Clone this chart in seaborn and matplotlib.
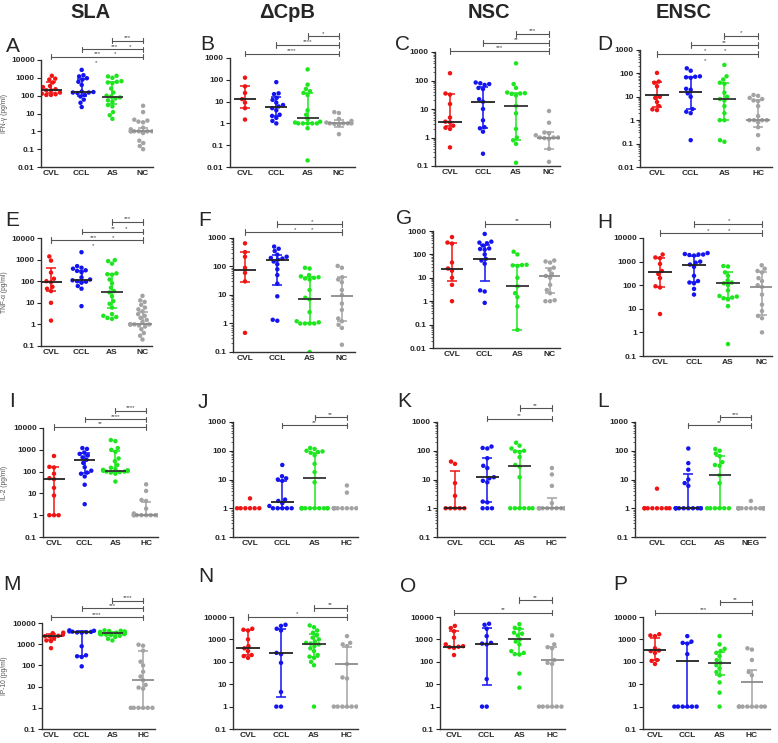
import numpy as np
import pandas as pd
import matplotlib
matplotlib.use('Agg')
import matplotlib.pyplot as plt
import matplotlib.transforms as mtransforms
from matplotlib.ticker import LogLocator, NullFormatter
import seaborn as sns

# group labels
groups_nc = ['CVL', 'CCL', 'AS', 'NC']
groups_hc = ['CVL', 'CCL', 'AS', 'HC']
groups_neg = ['CVL', 'CCL', 'AS', 'NEG']
col_titles = ['SLA', 'ΔCpB', 'NSC', 'ENSC']

# ---- values (pg/ml) ----
A_CVL = [1300, 900, 800, 550, 350, 300, 230, 200, 200, 150, 130, 120, 110, 110]
A_CCL = [2800, 1400, 1200, 950, 800, 600, 400, 170, 160, 150, 150, 140, 110, 90, 60, 40, 23]
A_AS = [1300, 1200, 1000, 650, 600, 550, 500, 250, 150, 100, 90, 80, 70, 55, 45, 30, 25, 12, 8, 5]
A_NC = [27, 12, 4.5, 4, 3.5, 3.2, 1.6, 1.3, 1.1, 1, 1, 1, 1, 1, 1, 1, 1, 0.8, 0.3, 0.22, 0.15, 0.1]
A_med = [220, 155, 87, 1.0]
A_lo = [140, 100, 35, 0.9]
A_hi = [560, 910, 575, 1.6]

B_CVL = [125, 50, 25, 13, 9, 5, 1.5]
B_CCL = [78, 24, 22, 15, 12, 9, 7, 6, 5, 4, 2.5, 2.2, 1.8, 1.3, 1.0]
B_AS = [300, 60, 38, 30, 25, 20, 4, 2.5, 1.6, 1.2, 1.1, 1, 1, 1, 1, 1, 0.6, 0.02]
B_NC = [3.3, 3.0, 1.6, 1.3, 1.1, 1, 1, 1, 1, 0.95, 0.85, 0.32]
B_med = [13, 5.8, 1.7, 1.05]
B_lo = [5.3, 2.2, 1.0, 0.7]
B_hi = [52, 16, 26, 1.5]

C_CVL = [180, 35, 32, 15, 5, 3.6, 3.4, 2.6, 2.2, 2.0, 0.45]
C_CCL = [85, 80, 75, 70, 55, 50, 22, 18, 10, 4, 2.3, 2.1, 1.6, 0.27]
C_AS = [400, 75, 55, 38, 36, 35, 34, 30, 13, 7, 2, 1.0, 0.8, 0.6, 0.13]
C_NC = [8.5, 3.3, 1.5, 1.4, 1.2, 1.1, 1, 1, 1, 0.95, 0.9, 0.4, 0.14]
C_med = [3.5, 18, 13, 1.0]
C_lo = [2.5, 2.2, 0.8, 0.38]
C_hi = [33, 57, 37, 1.5]

D_CVL = [105, 45, 40, 28, 10, 9, 6, 4, 2.9, 2.7]
D_CCL = [165, 130, 75, 72, 68, 65, 22, 20, 14, 10, 3, 2.3, 2.0, 0.14]
D_AS = [230, 75, 55, 40, 36, 15, 10, 8, 7, 4, 2, 1.0, 1.0, 0.14, 0.12]
D_HC = [12, 11, 9, 8, 7, 6.5, 4, 1.5, 1, 1, 1, 1, 0.8, 0.5, 0.23, 0.06]
D_med = [12, 16, 8, 1.0]
D_lo = [3.6, 3.0, 1.0, 0.5]
D_hi = [42, 70, 38, 7]

E_CVL = [1400, 900, 250, 130, 100, 90, 55, 45, 35, 10, 1.5]
E_CCL = [2200, 500, 420, 380, 320, 300, 260, 150, 120, 110, 100, 95, 85, 60, 45, 7]
E_AS = [950, 850, 650, 230, 210, 200, 120, 80, 50, 35, 30, 20, 12, 9, 6, 3, 2.5, 2.2, 2.0, 1.8]
E_NC = [21, 13, 11, 8, 6, 5, 4, 3, 2.5, 2, 1.6, 1.3, 1.1, 1, 1, 1, 1, 1, 1, 1, 1, 0.9, 0.8,
        0.6, 0.4, 0.3, 0.2]
E_med = [95, 110, 30, 1.0]
E_lo = [35, 90, 5.5, 1.0]
E_hi = [400, 300, 210, 3.7]

F_CVL = [650, 320, 220, 90, 60, 30, 0.47]
F_CCL = [500, 420, 350, 260, 220, 200, 190, 175, 150, 120, 80, 50, 25, 9, 1.35, 1.25]
F_AS = [90, 85, 50, 45, 42, 40, 38, 35, 15, 8, 7, 2.5, 1.2, 1.1, 1, 1, 1, 1, 0.1]
F_NC = [105, 90, 42, 35, 28, 15, 10, 5, 3, 1.5, 1.2, 0.9, 0.7, 0.18]
F_med = [75, 170, 7, 9.5]
F_lo = [29, 23, 1.0, 1.2]
F_hi = [330, 250, 42, 42]

G_CVL = [550, 320, 290, 45, 25, 20, 10, 5, 1]
G_CCL = [750, 350, 320, 300, 240, 180, 170, 160, 100, 65, 55, 40, 2.9, 2.6, 0.85]
G_AS = [130, 100, 36, 35, 34, 32, 10, 4.3, 2.2, 1.5, 0.6, 0.06]
G_NC = [55, 50, 45, 27, 22, 15, 12, 10, 5, 3, 2.2, 1.1, 1.0, 1.0]
G_med = [24, 65, 4.3, 12]
G_lo = [7, 7.5, 0.06, 2.2]
G_hi = [300, 250, 35, 27]

H_CVL = [2000, 1500, 1400, 800, 400, 300, 200, 90, 80, 6]
H_CCL = [2300, 2100, 2000, 2000, 1900, 1800, 1000, 900, 750, 600, 250, 150, 130, 120, 70, 40]
H_AS = [650, 620, 350, 250, 160, 130, 120, 100, 60, 35, 33, 30, 28, 25, 13, 0.32]
H_NC = [700, 500, 400, 350, 200, 150, 100, 85, 40, 15, 8, 5, 4, 1.0]
H_med = [350, 700, 125, 85]
H_lo = [80, 140, 28, 5.5]
H_hi = [1400, 1800, 350, 350]

I_CVL = [520, 165, 155, 80, 50, 45, 18, 8, 1, 1, 1]
I_CCL = [1200, 1100, 750, 650, 550, 450, 350, 250, 160, 110, 90, 80, 60, 25, 3.2]
I_AS = [2800, 2500, 1200, 1000, 800, 400, 300, 200, 150, 130, 120, 115, 110, 105, 100, 100,
        95, 90, 80, 35]
I_HC = [26, 13, 5, 4.5, 2, 1.2, 1, 1, 1, 1, 1, 1, 1, 1, 1, 1]
I_med = [45, 350, 110, 1.0]
I_lo = [1, 90, 100, 1]
I_hi = [160, 700, 900, 4]

J_CVL = [2.2, 1, 1, 1, 1, 1, 1]
J_CCL = [32, 13, 11, 10, 9, 2.0, 1.8, 1.5, 1.2, 1, 1, 1, 1, 1]
J_AS = [125, 115, 100, 95, 90, 85, 70, 35, 18, 8, 1, 1, 1, 1, 1, 1, 1, 1, 1, 1]
J_HC = [6.2, 3.5, 1, 1, 1, 1, 1, 1, 1, 1, 1, 1, 1, 1]
J_med = [1, 1.7, 11, 1]
J_lo = [1, 1, 1, 1]
J_hi = [1, 9, 85, 1]

K_CVL = [42, 35, 7.5, 2.7, 1, 1, 1, 1, 1]
K_CCL = [140, 125, 120, 55, 30, 25, 12, 11, 9, 8, 1.7, 1.6, 1, 1, 1]
K_AS = [190, 150, 120, 100, 95, 90, 60, 32, 28, 12, 1, 1, 1, 1, 1, 1]
K_HC = [25, 15, 6, 1.5, 1, 1, 1, 1, 1, 1, 1, 1, 1, 1, 1]
K_med = [1, 12, 30, 1]
K_lo = [1, 1.6, 1, 1]
K_hi = [20, 57, 95, 2.3]

L_CVL = [4.8, 1, 1, 1, 1, 1, 1, 1, 1]
L_CCL = [120, 37, 22, 10, 7.5, 6, 1, 1, 1, 1, 1, 1, 1, 1, 1, 1]
L_AS = [115, 100, 80, 65, 40, 32, 30, 14, 7.5, 1, 1, 1, 1, 1, 1]
L_NEG = [1.8, 1, 1, 1, 1, 1, 1, 1, 1, 1, 1, 1, 1, 1, 1]
L_med = [1, 1, 14, 1]
L_lo = [1, 1, 1, 1]
L_hi = [1, 16, 65, 1]

M_CVL = [3500, 3300, 3000, 2800, 2600, 2500, 2400, 2300, 2000, 1500, 1400, 650]
M_CCL = [4500, 4300, 4000, 3900, 3800, 3700, 3600, 3500, 800, 300, 270, 250, 90]
M_AS = [4500, 4300, 4200, 4000, 3800, 3700, 3500, 3400, 3300, 3200, 3100, 3000, 3000, 2900,
        2800, 2700, 2500, 2200, 1800, 1500]
M_HC = [950, 850, 500, 150, 100, 50, 30, 20, 12, 9, 8, 1, 1, 1, 1, 1, 1]
M_med = [2500, 3700, 3200, 20]
M_lo = [1500, 270, 2800, 1]
M_hi = [3100, 4000, 3800, 500]

N_CVL = [3000, 2700, 2500, 1000, 500, 400, 300, 200, 180, 150]
N_CCL = [4500, 4000, 3000, 2500, 250, 220, 90, 4.5, 1, 1]
N_AS = [4200, 3500, 2500, 2000, 1500, 1200, 1000, 800, 700, 650, 600, 500, 400, 300, 200, 170,
        150, 100, 70, 1]
N_HC = [1400, 700, 600, 500, 80, 20, 18, 1, 1, 1, 1, 1, 1]
N_med = [430, 240, 650, 80]
N_lo = [200, 2.8, 170, 1]
N_hi = [2500, 3000, 1800, 450]

O_CVL = [4000, 3200, 2300, 1200, 600, 500, 470, 450, 420, 200]
O_CCL = [5000, 4500, 3000, 1400, 700, 650, 600, 17, 1, 1]
O_AS = [4800, 3300, 3000, 2000, 1800, 1500, 1000, 800, 600, 300, 250, 220, 210, 30, 7]
O_HC = [1500, 600, 450, 400, 120, 90, 80, 1, 1, 1, 1, 1, 1]
O_med = [480, 600, 1000, 120]
O_lo = [450, 9, 220, 1]
O_hi = [2300, 3300, 2800, 450]

P_CVL = [1700, 1500, 1400, 400, 320, 300, 250, 120, 110, 80]
P_CCL = [1400, 800, 700, 650, 220, 1, 1, 1, 1, 1, 1]
P_AS = [1400, 600, 380, 300, 250, 180, 120, 90, 70, 50, 35, 25, 12, 4.2, 1]
P_HC = [400, 350, 120, 35, 25, 1, 1, 1, 1, 1, 1, 1, 1]
P_med = [320, 110, 90, 12]
P_lo = [120, 1, 25, 1]
P_hi = [1200, 700, 280, 45]

# significance brackets: (from, to, height in axes units, [(x, stars, above/below)])
A_brk = [(2, 3, 1.18, [(2.5, '***', 'a')]),
         (1, 3, 1.10, [(2.08, '***', 'a'), (2.57, '*', 'a')]),
         (0, 3, 1.03, [(1.5, '***', 'a'), (2.08, '*', 'a'), (1.47, '*', 'b')])]
B_brk = [(2, 3, 1.20, [(2.5, '*', 'a')]), (1, 3, 1.12, [(2.0, '****', 'a')]),
         (0, 3, 1.04, [(1.5, '****', 'a')])]
C_brk = [(2, 3, 1.16, [(2.5, '***', 'a')]), (1, 3, 1.08, [(2.0, '**', 'a')]),
         (0, 3, 1.01, [(1.5, '***', 'a')])]
D_brk = [(2, 3, 1.12, [(2.5, '*', 'a')]), (1, 3, 1.04, [(2.0, '**', 'a')]),
         (0, 3, 0.965, [(1.43, '*', 'a'), (2.03, '*', 'a'), (1.43, '*', 'b')])]
E_brk = [(2, 3, 1.15, [(2.5, '***', 'a')]),
         (1, 3, 1.06, [(2.03, '**', 'a'), (2.46, '*', 'a')]),
         (0, 3, 0.98, [(1.38, '***', 'a'), (2.03, '*', 'a'), (1.38, '*', 'b')])]
F_brk = [(1, 3, 1.12, [(2.09, '*', 'a')]), (0, 3, 1.05, [(1.56, '*', 'a'), (2.09, '*', 'a')])]
G_brk = [(1, 3, 1.06, [(2.0, '**', 'a')])]
H_brk = [(1, 3, 1.12, [(2.03, '*', 'a')]), (0, 3, 1.04, [(1.41, '*', 'a'), (2.03, '*', 'a')])]
I_brk = [(2, 3, 1.16, [(2.5, '****', 'a')]), (1, 3, 1.08, [(2.0, '****', 'a')]),
         (0, 3, 1.01, [(1.5, '**', 'a')])]
J_brk = [(2, 3, 1.04, [(2.5, '**', 'a')]), (1, 3, 0.97, [(2.0, '**', 'a')])]
K_brk = [(2, 3, 1.12, [(2.5, '**', 'a')]), (1, 3, 1.03, [(2.0, '**', 'a')])]
L_brk = [(2, 3, 1.04, [(2.5, '***', 'a')]), (1, 3, 0.97, [(2.0, '**', 'a')])]
M_brk = [(2, 3, 1.21, [(2.5, '****', 'a')]), (1, 3, 1.14, [(2.0, '***', 'a')]),
         (0, 3, 1.055, [(1.5, '****', 'a')])]
N_brk = [(2, 3, 1.08, [(2.5, '**', 'a')]), (0, 3, 1.0, [(1.5, '*', 'a')])]
O_brk = [(2, 3, 1.15, [(2.5, '**', 'a')]), (0, 3, 1.04, [(1.5, '**', 'a')])]
P_brk = [(2, 3, 1.13, [(2.5, '**', 'a')]), (0, 3, 1.04, [(1.5, '***', 'a')])]

palette = ['#f01414', '#1414f0', '#1ee61e', '#a3a3a3']
med_colors = ['#222222', '#222222', '#333333', '#8c8c8c']

# layout in pixels: (left, right, top, bottom), first-category x, category spacing, letter pos
panels = [
    ('A', groups_nc, [A_CVL, A_CCL, A_AS, A_NC], A_med, A_lo, A_hi, (0.01, 1e4), 'IFN-γ (pg/ml)', A_brk,
     (41, 153, 60, 167), 51, 30.7, (13, 46)),
    ('B', groups_nc, [B_CVL, B_CCL, B_AS, B_NC], B_med, B_lo, B_hi, (0.01, 1e3), None, B_brk,
     (230, 355, 58, 167), 245, 31.3, (207, 45)),
    ('C', groups_nc, [C_CVL, C_CCL, C_AS, C_NC], C_med, C_lo, C_hi, (0.1, 1e3), None, C_brk,
     (435, 560, 52, 166), 450, 33, (402, 45)),
    ('D', groups_hc, [D_CVL, D_CCL, D_AS, D_HC], D_med, D_lo, D_hi, (0.01, 1e3), None, D_brk,
     (640, 772, 50, 167), 657, 33.7, (605, 45)),
    ('E', groups_nc, [E_CVL, E_CCL, E_AS, E_NC], E_med, E_lo, E_hi, (0.1, 1e4), 'TNF-α (pg/ml)', E_brk,
     (41, 152, 238, 346), 51, 30.5, (12, 221)),
    ('F', groups_nc, [F_CVL, F_CCL, F_AS, F_NC], F_med, F_lo, F_hi, (0.1, 1e3), None, F_brk,
     (233, 355, 238, 352), 245, 32.3, (205, 221)),
    ('G', groups_nc, [G_CVL, G_CCL, G_AS, G_NC], G_med, G_lo, G_hi, (0.01, 1e3), None, G_brk,
     (433, 560, 231, 348), 452, 32.7, (404, 219)),
    ('H', groups_nc, [H_CVL, H_CCL, H_AS, H_NC], H_med, H_lo, H_hi, (0.1, 1e4), None, H_brk,
     (643, 772, 238, 356), 660, 34, (605, 223)),
    ('I', groups_hc, [I_CVL, I_CCL, I_AS, I_HC], I_med, I_lo, I_hi, (0.1, 1e4), 'IL-2 (pg/ml)', I_brk,
     (43, 158, 428, 537), 54, 30.7, (12, 401)),
    ('J', groups_hc, [J_CVL, J_CCL, J_AS, J_HC], J_med, J_lo, J_hi, (0.1, 1e3), None, J_brk,
     (233, 358, 422, 537), 250, 32.3, (203, 402)),
    ('K', groups_hc, [K_CVL, K_CCL, K_AS, K_HC], K_med, K_lo, K_hi, (0.1, 1e3), None, K_brk,
     (437, 565, 422, 537), 455, 32.3, (404, 401)),
    ('L', groups_neg, [L_CVL, L_CCL, L_AS, L_NEG], L_med, L_lo, L_hi, (0.1, 1e3), None, L_brk,
     (635, 765, 422, 537), 657, 31.3, (603, 401)),
    ('M', groups_hc, [M_CVL, M_CCL, M_AS, M_HC], M_med, M_lo, M_hi, (0.1, 1e4), 'IP-10 (pg/ml)', M_brk,
     (42, 155, 623, 729), 51, 30.7, (12, 585)),
    ('N', groups_hc, [N_CVL, N_CCL, N_AS, N_HC], N_med, N_lo, N_hi, (0.1, 1e4), None, N_brk,
     (233, 358, 617, 729), 248, 33, (206, 577)),
    ('O', groups_hc, [O_CVL, O_CCL, O_AS, O_HC], O_med, O_lo, O_hi, (0.1, 1e4), None, O_brk,
     (440, 565, 617, 729), 454, 32.7, (408, 587)),
    ('P', groups_hc, [P_CVL, P_CCL, P_AS, P_HC], P_med, P_lo, P_hi, (0.1, 1e4), None, P_brk,
     (643, 770, 617, 729), 655, 32.3, (620, 584)),
]

sns.set_style('white')
plt.rcParams['font.family'] = ['Liberation Sans', 'DejaVu Sans']

W, H = 778, 743
fig = plt.figure(figsize=(W / 100, H / 100), dpi=100)

for (letter, groups, data, med, lo, hi, ylim, ylabel, brk, box, x0, sp, lxy) in panels:
    left, right, top, bottom = box
    ax = fig.add_axes([left / W, 1 - bottom / H, (right - left) / W, (bottom - top) / H])

    df = pd.DataFrame([(g, v) for g, vals in zip(groups, data) for v in vals],
                      columns=['group', 'value'])
    sns.swarmplot(data=df, x='group', y='value', hue='group', order=groups, hue_order=groups,
                  palette=palette, size=3.2, linewidth=0, log_scale=True, legend=False,
                  warn_thresh=1, ax=ax, zorder=2)

    for i in range(4):
        if hi[i] == lo[i]:
            continue
        ax.errorbar(i, med[i], yerr=[[med[i] - lo[i]], [hi[i] - med[i]]], fmt='none',
                    ecolor=palette[i], elinewidth=1.1, capsize=3.5, capthick=1.1, zorder=4)
        ax.hlines(med[i], i - 0.35, i + 0.35, color=med_colors[i], lw=1.3, zorder=5)

    ax.set_xlim((left - x0) / sp, (right - x0) / sp)
    ax.set_ylim(*ylim)
    ticks = [10.0 ** k for k in range(int(round(np.log10(ylim[0]))), int(round(np.log10(ylim[1]))) + 1)]
    ax.set_yticks(ticks, labels=[f'{t:g}' for t in ticks], fontsize=6, fontweight='bold')
    ax.yaxis.set_minor_locator(LogLocator(base=10, subs=np.arange(2, 10)))
    ax.yaxis.set_minor_formatter(NullFormatter())
    ax.set_xticks(range(4), labels=groups, fontsize=6, fontweight='bold')
    ax.set_xlabel('')
    ax.set_ylabel('')
    ax.tick_params(axis='y', which='major', length=3, width=0.8, pad=1.5, direction='out', left=True)
    ax.tick_params(axis='y', which='minor', length=1.5, width=0.5, left=True)
    ax.tick_params(axis='x', length=0, pad=2.2, bottom=False)
    for s in ['top', 'right']:
        ax.spines[s].set_visible(False)
    for s in ['left', 'bottom']:
        ax.spines[s].set_color('#333333')
        ax.spines[s].set_linewidth(1.0)

    if ylabel:
        ax.set_ylabel(ylabel, fontsize=4.8, color='#555555')
        ax.yaxis.set_label_coords((8 - left) / (right - left), 0.5)

    trans = mtransforms.blended_transform_factory(ax.transData, ax.transAxes)
    for (i, j, yb, texts) in brk:
        ax.plot([i, j], [yb, yb], color='#555555', lw=0.8, transform=trans, clip_on=False, zorder=6)
        for xe in (i, j):
            ax.plot([xe, xe], [yb - 0.025, yb + 0.025], color='#555555', lw=0.8,
                    transform=trans, clip_on=False, zorder=6)
        for (xt, s, pos) in texts:
            if pos == 'a':
                ax.text(xt, yb + 0.005, s, fontsize=4.5, color='#444444', ha='center', va='bottom',
                        transform=trans)
            else:
                ax.text(xt, yb - 0.075, s, fontsize=4.5, color='#444444', ha='center', va='bottom',
                        transform=trans)

    fig.text(lxy[0] / W, 1 - lxy[1] / H, letter, fontsize=15, ha='center', va='center')

for title, xc in zip(col_titles, [90, 287, 489, 684]):
    fig.text(xc / W, 1 - 12 / H, title, fontsize=14.5, fontweight='bold', ha='center', va='center')

fig.savefig('out.png', dpi=100, facecolor='white')
